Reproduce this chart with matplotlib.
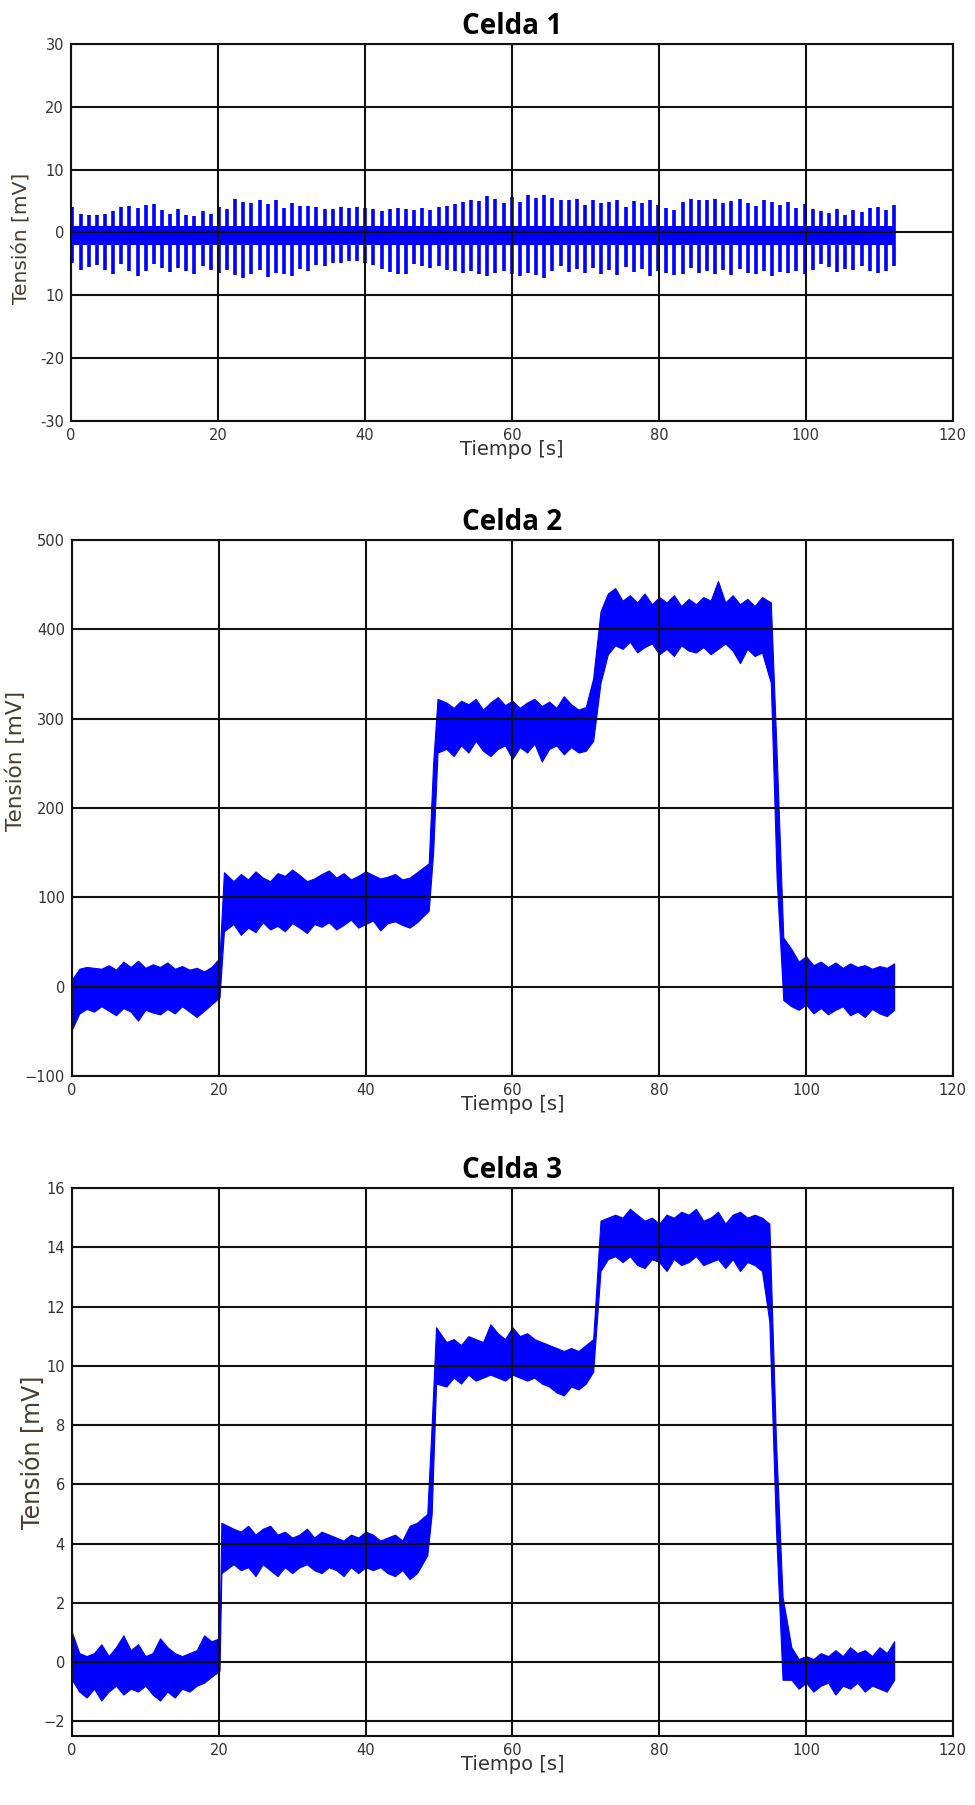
import numpy as np
import matplotlib
matplotlib.use('Agg')
from matplotlib import pyplot as plt

# ---- Celda 1: peak values of each oscillation cycle (mV)
c1_hi = [4.1, 2.9, 2.8, 2.7, 2.9, 3.4, 4.0, 4.2, 3.9, 4.3, 4.5, 3.5, 3.0, 3.7, 2.8, 2.6, 3.4, 2.9, 4.1, 3.7,
         5.3, 4.8, 4.7, 5.1, 4.5, 5.2, 3.9, 4.7, 4.2, 4.2, 4.1, 3.8, 3.8, 4.1, 3.9, 4.0, 3.9, 3.7, 3.4, 3.7, 3.9,
         3.8, 3.5, 3.9, 3.6, 4.0, 4.2, 4.5, 4.8, 5.2, 5.0, 5.8, 5.3, 4.6, 5.6, 4.9, 5.9, 5.5, 6.0,
         5.4, 5.2, 5.1, 5.3, 4.4, 5.2, 4.7, 4.9, 5.2, 4.0, 5.0, 4.6, 5.1, 4.3, 3.9, 3.6, 4.8,
         5.3, 5.2, 5.1, 5.3, 4.6, 5.0, 5.3, 4.7, 4.2, 5.2, 4.8, 4.4, 4.9, 3.9, 4.5, 3.7,
         3.4, 3.1, 3.8, 2.7, 3.6, 3.2, 3.9, 4.1, 3.5, 4.3]
c1_lo = [-4.8, -6.0, -5.5, -5.2, -6.0, -6.6, -5.1, -6.2, -6.9, -6.1, -5.0, -5.6, -6.3, -5.7, -6.2, -6.6, -5.4,
         -6.0, -6.4, -6.0,
         -6.8, -7.2, -6.6, -6.0, -7.1, -6.4, -6.6, -6.9, -5.9, -6.1, -5.2, -5.4, -4.9, -4.8, -4.6, -4.5, -4.9,
         -5.2, -5.8, -6.3, -6.7,
         -6.6, -5.0, -5.3, -5.6, -5.4, -6.0, -6.2, -6.5, -6.1, -6.6, -6.9, -6.4, -6.2, -6.7, -7.0, -6.5, -6.8, -7.2,
         -6.1, -5.4, -6.3, -5.9, -6.4, -5.7, -6.6, -6.0, -6.8, -5.5, -6.3, -5.8, -6.9, -6.2, -6.5, -6.8, -6.6,
         -5.6, -6.5, -6.1, -6.6, -6.0, -6.8, -5.9, -6.5, -6.7, -6.1, -6.9, -6.3, -6.5, -6.1, -6.7, -6.0,
         -5.1, -5.5, -6.3, -5.8, -6.0, -5.4, -6.2, -6.4, -6.1, -5.3]
c1_band = (-2.0, 1.0)
c1_t = np.linspace(0.2, 112, len(c1_hi))

# ---- Celda 2: upper / lower envelope, about one value per second (mV)
c2_t = np.arange(0, 113, dtype=float)
c2_t[[20, 21, 48, 49, 50, 95, 96, 97]] = [20.1, 20.7, 48.6, 49.2, 49.8, 95.2, 96.0, 96.9]
c2_hi = [8, 20, 22, 21, 20, 24, 19, 28, 22, 29, 21, 25, 22, 27, 20, 23, 19, 21, 17, 22, 32,
         128, 118, 126, 120, 129, 122, 118, 127, 124, 131, 125, 118, 121, 126, 130, 122, 127, 120,
         124, 129, 125, 121, 123, 126, 120, 122, 128, 138,
         250, 322, 318, 312, 320, 316, 322, 310, 318, 324, 315, 320, 312, 318, 322, 314, 319, 312,
         325, 316, 310, 313, 345, 420,
         440, 446, 432, 438, 430, 440, 428, 436, 430, 438, 426, 434, 428, 436, 432, 454, 430, 438,
         428, 434, 426, 436, 430,
         260, 55, 42, 28, 34, 24, 28, 22, 27, 21, 26, 22, 24, 20, 23, 21, 26]
c2_lo = [-48, -30, -25, -28, -22, -27, -32, -24, -28, -38, -26, -29, -31, -25, -30, -22, -28, -34, -27, -20, -12,
         62, 70, 58, 66, 61, 72, 64, 68, 62, 71, 66, 60, 70, 67, 72, 64, 69, 75, 66, 70, 74, 63, 71,
         73, 69, 66, 72, 85,
         150, 262, 266, 258, 270, 262, 275, 264, 258, 266, 270, 255, 268, 262, 272, 252, 266, 270,
         260, 268, 262, 264, 275, 340,
         372, 382, 378, 386, 374, 380, 384, 372, 378, 370, 382, 376, 374, 380, 372, 378, 384, 376,
         362, 378, 370, 374, 340,
         120, -15, -22, -26, -20, -30, -24, -31, -26, -22, -32, -28, -34, -25, -30, -33, -26]

# ---- Celda 3: upper / lower envelope, about one value per second (mV)
c3_t = np.arange(0, 113, dtype=float)
c3_t[[20, 21, 48, 49, 50, 95, 96, 97]] = [20.1, 20.35, 48.4, 49.0, 49.6, 95.0, 95.9, 96.8]
c3_hi = [1.0, 0.3, 0.2, 0.3, 0.6, 0.2, 0.5, 0.9, 0.4, 0.6, 0.2, 0.3, 0.8, 0.5, 0.3, 0.2, 0.3, 0.4, 0.9, 0.7, 0.8,
         4.7, 4.5, 4.4, 4.6, 4.3, 4.5, 4.6, 4.3, 4.4, 4.2, 4.3, 4.5, 4.2, 4.4, 4.3, 4.2, 4.1, 4.3,
         4.2, 4.4, 4.3, 4.1, 4.2, 4.3, 4.1, 4.6, 4.7, 5.0,
         8.0, 11.3, 10.8, 10.9, 10.7, 11.0, 10.9, 10.8, 11.4, 11.1, 10.9, 11.3, 11.0, 11.1, 10.9,
         10.8, 10.7, 10.6, 10.5, 10.6, 10.5, 10.7, 10.9,
         14.9, 15.0, 15.1, 15.0, 15.3, 15.1, 14.9, 15.0, 14.8, 15.1, 15.0, 15.2, 15.1, 15.3, 14.9,
         15.0, 15.2, 14.8, 15.1, 15.2, 15.0, 15.1, 15.0, 14.8,
         7.5, 2.2, 0.5, 0.1, 0.2, 0.1, 0.3, 0.2, 0.4, 0.2, 0.5, 0.3, 0.4, 0.2, 0.5, 0.3, 0.7]
c3_lo = [-0.6, -1.0, -1.2, -0.9, -1.3, -1.0, -0.8, -1.1, -0.9, -1.0, -0.8, -1.1, -1.3, -1.0, -1.2, -0.9, -1.0,
         -0.8, -0.7, -0.5, -0.3,
         3.0, 3.3, 3.1, 3.2, 2.9, 3.3, 3.1, 2.9, 3.2, 3.0, 3.2, 3.3, 3.1, 3.0, 3.2, 3.1, 2.9, 3.2,
         3.0, 3.2, 3.1, 3.2, 3.0, 2.9, 3.1, 2.8, 3.0, 3.6,
         5.0, 9.4, 9.3, 9.6, 9.4, 9.7, 9.5, 9.6, 9.7, 9.6, 9.5, 9.7, 9.6, 9.5, 9.6, 9.4, 9.3, 9.1,
         9.0, 9.3, 9.2, 9.4, 9.8,
         13.2, 13.6, 13.7, 13.5, 13.7, 13.4, 13.3, 13.6, 13.5, 13.2, 13.6, 13.4, 13.5, 13.7, 13.4,
         13.5, 13.6, 13.3, 13.6, 13.2, 13.5, 13.4, 13.2, 11.5,
         4.5, -0.6, -0.6, -0.9, -0.7, -1.0, -0.8, -0.7, -1.1, -0.8, -0.9, -0.7, -1.0, -0.8, -0.9,
         -1.0, -0.6]

titles = ['Celda 1', 'Celda 2', 'Celda 3']
xticks = [0, 20, 40, 60, 80, 100, 120]
y1_ticks = [-30, -20, -10, 0, 10, 20, 30]
y1_labels = ['-30', '-20', '10', '0', '10', '20', '30']
y2_ticks = [-100, 0, 100, 200, 300, 400, 500]
y3_ticks = [-2, 0, 2, 4, 6, 8, 10, 12, 14, 16]

blue = '#0000ff'
fig = plt.figure(figsize=(9.75, 18.05), dpi=100)
ax1 = fig.add_axes([0.0728, 0.7668, 0.9045, 0.2089])
ax2 = fig.add_axes([0.0738, 0.4039, 0.9035, 0.2970])
ax3 = fig.add_axes([0.0738, 0.0382, 0.9035, 0.3036])

ax1.fill_between([0, 112], c1_band[0], c1_band[1], color=blue, lw=0)
ax1.vlines(c1_t, c1_lo, c1_hi, color=blue, lw=2.6)
ax1.set_ylim(-30, 30)
ax1.set_yticks(y1_ticks)
ax1.set_yticklabels(y1_labels)

ax2.fill_between(c2_t, c2_lo, c2_hi, color=blue, lw=0.8, edgecolor=blue)
ax2.set_ylim(-100, 500)
ax2.set_yticks(y2_ticks)

ax3.fill_between(c3_t, c3_lo, c3_hi, color=blue, lw=0.8, edgecolor=blue)
ax3.set_ylim(-2.5, 16)
ax3.set_yticks(y3_ticks)

ylabel_sizes = [14.5, 15.5, 17]
ylabel_pos = [(-0.046, 0.485), (-0.052, 0.588), (-0.030, 0.517)]
for ax, title, ys, yp in zip([ax1, ax2, ax3], titles, ylabel_sizes, ylabel_pos):
    ax.set_xlim(0, 120)
    ax.set_xticks(xticks)
    ax.set_axisbelow(False)
    ax.grid(True, color='#111111', lw=1.5)
    ax.tick_params(length=0, labelsize=10.5, labelcolor='#333333', pad=5)
    for s in ax.spines.values():
        s.set_linewidth(1.5)
        s.set_color('#111111')
    ax.set_title(title, fontsize=20, fontweight='bold', family='Open Sans', pad=7)
    ax.set_xlabel('Tiempo [s]', fontsize=14, color='#333333', labelpad=-2)
    ax.set_ylabel('Tensión [mV]', fontsize=ys, color='#4a3d30')
    ax.yaxis.set_label_coords(*yp)

fig.savefig('out.png', dpi=100, facecolor='white')
